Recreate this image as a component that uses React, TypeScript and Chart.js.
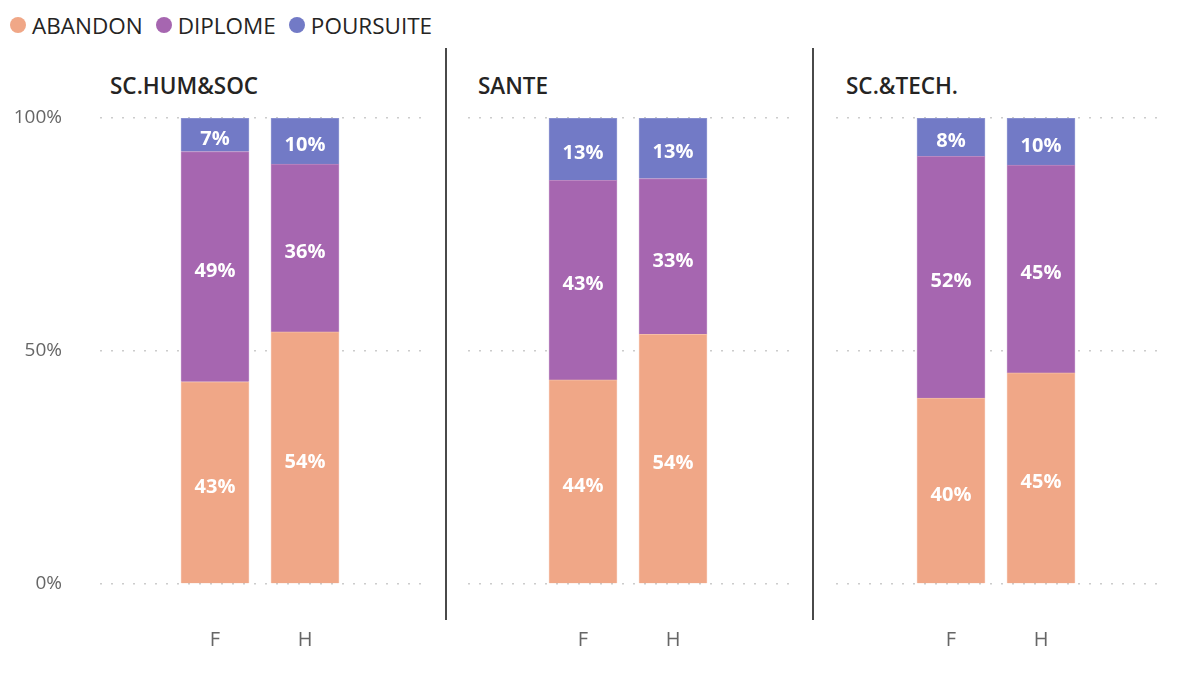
import React, { useEffect, useRef } from 'react';
import { Chart, registerables } from 'chart.js';

Chart.register(...registerables);

// ---- data ----
const seriesNames = ['ABANDON', 'DIPLOME', 'POURSUITE'];
const groups = ['SC.HUM&SOC', 'SANTE', 'SC.&TECH.'];
const sexes = ['F', 'H'];
const abandon = [
  [43.4, 54.1],
  [43.8, 53.6],
  [39.9, 45.3],
];
const diplome = [
  [49.4, 36.0],
  [42.8, 33.4],
  [51.9, 44.6],
];
const poursuite = [
  [7.2, 9.9],
  [13.4, 13.0],
  [8.2, 10.1],
];
const yTicks = [0, 50, 100];
const seriesColors = ['#F0A787', '#A666B0', '#727AC6'];
const seriesBorders = ['#F5BEA6', '#BA88C2', '#9198D3'];

const FONT = "'Open Sans', 'Noto Sans', sans-serif";

// layout
const AREA_LEFT = [100, 468, 836];
const AREA_W = 322;
const AREA_TOP = 118;
const AREA_BOTTOM = 584;
const CANVAS_TOP = 100;
const CANVAS_H = 573;
const PAD_TOP = AREA_TOP - CANVAS_TOP;
const X_AXIS_H = CANVAS_TOP + CANVAS_H - AREA_BOTTOM;
const FIRST_X_PX = 115;
const STEP_PX = 90;

const labelPlugin = {
  id: 'segLabels',
  afterDatasetsDraw(chart: any) {
    const ctx = chart.ctx;
    ctx.save();
    ctx.fillStyle = '#ffffff';
    ctx.font = `bold 20px ${FONT}`;
    ctx.textAlign = 'center';
    ctx.textBaseline = 'middle';
    chart.data.datasets.forEach((ds: any, i: number) => {
      const meta = chart.getDatasetMeta(i);
      meta.data.forEach((el: any, j: number) => {
        const p = el.getProps(['x', 'y', 'base'], true);
        const v = ds.data[j].y;
        ctx.fillText(Math.round(v) + '%', p.x, (p.y + p.base) / 2 + 4.5);
      });
    });
    ctx.restore();
  },
};

function makeChart(canvas: HTMLCanvasElement, p: number) {
  const yw = p === 0 ? 100 : 0;
  const values = [abandon[p], diplome[p], poursuite[p]];
  return new Chart(canvas, {
    type: 'bar',
    data: {
      datasets: seriesNames.map((name, s) => ({
        label: name,
        data: sexes.map((_, k) => ({ x: k, y: values[s][k] })),
        backgroundColor: seriesColors[s],
        borderColor: seriesBorders[s],
        borderWidth: 1,
        barThickness: 68,
      })),
    },
    options: {
      responsive: false,
      animation: false,
      layout: { padding: { top: PAD_TOP, right: 0, bottom: 0, left: 0 } },
      plugins: {
        legend: { display: false },
        tooltip: { enabled: false },
        title: { display: false },
      },
      scales: {
        x: {
          type: 'linear',
          stacked: true,
          offset: false,
          min: -FIRST_X_PX / STEP_PX,
          max: (AREA_W - FIRST_X_PX) / STEP_PX,
          grid: { display: false, drawTicks: false, offset: false },
          border: { display: false },
          afterBuildTicks: (scale: any) => {
            scale.ticks = sexes.map((_, k) => ({ value: k }));
          },
          afterFit: (scale: any) => {
            scale.height = X_AXIS_H;
            scale.paddingLeft = 0;
            scale.paddingRight = 0;
          },
          ticks: {
            padding: 44,
            color: '#666666',
            font: { family: FONT, size: 20 },
            autoSkip: false,
            maxRotation: 0,
            callback: (v: any) => sexes[Math.round(Number(v))] ?? '',
          },
        },
        y: {
          stacked: true,
          min: 0,
          max: 100,
          grid: { display: true, color: '#cccccc', lineWidth: 1.5, drawTicks: false },
          border: { display: false, dash: [2, 9] },
          afterBuildTicks: (scale: any) => {
            scale.ticks = yTicks.map((v) => ({ value: v }));
          },
          afterFit: (scale: any) => {
            scale.width = yw;
            scale.paddingTop = 0;
            scale.paddingBottom = 0;
          },
          ticks: {
            display: p === 0,
            padding: 38,
            color: '#666666',
            font: { family: FONT, size: 19 },
            callback: (v: any) => v + '%',
          },
        },
      },
    } as any,
    plugins: [labelPlugin],
  });
}

export default function App() {
  const refs = [
    useRef<HTMLCanvasElement>(null),
    useRef<HTMLCanvasElement>(null),
    useRef<HTMLCanvasElement>(null),
  ];

  useEffect(() => {
    const charts = refs.map((r, p) => makeChart(r.current as HTMLCanvasElement, p));
    return () => charts.forEach((c) => c.destroy());
  }, []);

  return (
    <div
      style={{
        position: 'fixed',
        left: 0,
        top: 0,
        width: 1188,
        height: 673,
        background: '#ffffff',
        overflow: 'hidden',
        fontFamily: FONT,
      }}
    >
      {/* legend */}
      <div
        style={{
          position: 'absolute',
          left: 10,
          top: 11,
          height: 28,
          display: 'flex',
          alignItems: 'center',
          fontSize: 22.5,
          color: '#252423',
          whiteSpace: 'nowrap',
        }}
      >
        {seriesNames.map((name, s) => (
          <div key={name} style={{ display: 'flex', alignItems: 'center', marginRight: 13 }}>
            <span
              style={{
                display: 'inline-block',
                width: 16,
                height: 16,
                borderRadius: 8,
                background: seriesColors[s],
                marginRight: 6,
              }}
            />
            <span>{name}</span>
          </div>
        ))}
      </div>

      {/* panel titles */}
      {groups.map((g, p) => (
        <div
          key={g}
          style={{
            position: 'absolute',
            left: AREA_LEFT[p] + 10,
            top: 71,
            fontSize: 22.5,
            fontWeight: 600,
            color: '#252423',
            lineHeight: '30px',
            whiteSpace: 'nowrap',
          }}
        >
          {g}
        </div>
      ))}

      {/* separators */}
      {[445, 812].map((x) => (
        <div
          key={x}
          style={{
            position: 'absolute',
            left: x,
            top: 48,
            width: 2,
            height: 572,
            background: '#4a4a4a',
          }}
        />
      ))}

      {/* charts */}
      {refs.map((r, p) => {
        const yw = p === 0 ? 100 : 0;
        const w = yw + AREA_W;
        return (
          <canvas
            key={p}
            ref={r}
            width={w}
            height={CANVAS_H}
            style={{
              position: 'absolute',
              left: AREA_LEFT[p] - yw,
              top: CANVAS_TOP,
              width: w,
              height: CANVAS_H,
            }}
          />
        );
      })}
    </div>
  );
}
